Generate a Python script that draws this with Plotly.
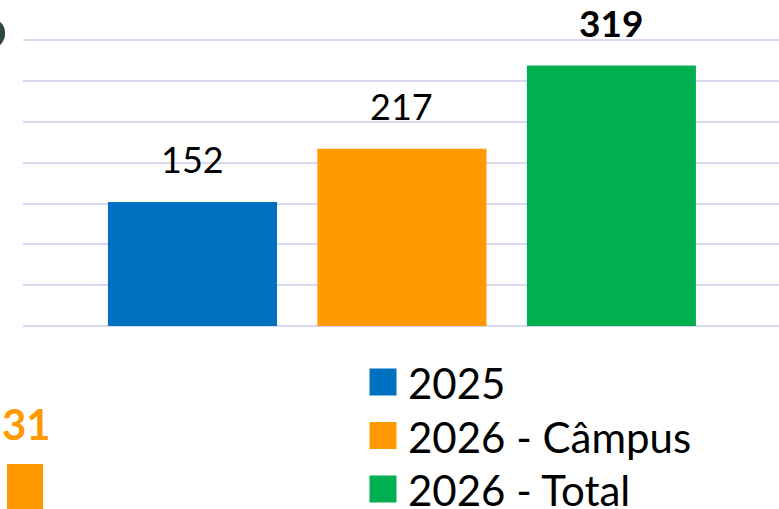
import plotly.graph_objects as go

# ---- data ----
series = ["2025", "2026 - Câmpus", "2026 - Total"]
values = [152, 217, 319]
colors = ["#0070C0", "#FF9900", "#00B050"]
label_bold = [False, False, True]

W, H = 779, 509
L, R, T, B = 23, 0, 39, 183
pw, ph = W - L - R, H - T - B

def px(x):
    return (x - L) / pw

def py(y):
    return (H - B - y) / ph

FONT = "Lato"

fig = go.Figure()
fig.add_trace(go.Bar(
    x=[0, 1, 2], y=values, marker=dict(color=colors, line=dict(width=0)),
    width=0.807, showlegend=False, hoverinfo="skip",
))

annotations = []
for i, (v, b) in enumerate(zip(values, label_bold)):
    annotations.append(dict(
        x=i, y=v, xref="x", yref="y", text=f"<b>{v}</b>" if b else str(v),
        showarrow=False, yanchor="bottom", yshift=19,
        font=dict(family=FONT, size=37 if b else 36, color="#000000"),
    ))

shapes = []
# manual legend
row_y = [382, 435.5, 489]
for name, c, yc in zip(series, colors, row_y):
    shapes.append(dict(type="rect", xref="paper", yref="paper",
                       x0=px(369.5), x1=px(396.5), y0=py(yc - 13.5), y1=py(yc + 13.5),
                       fillcolor=c, line=dict(width=0), layer="above"))
    annotations.append(dict(x=px(406), y=py(yc + 1), xref="paper", yref="paper",
                            text=name, showarrow=False, xanchor="left", yanchor="middle",
                            font=dict(family=FONT, size=42, color="#000000")))

# fragments of neighbouring slide elements
annotations.append(dict(x=px(9), y=py(24), xref="paper", yref="paper", text="<b>6</b>",
                        showarrow=False, xanchor="right", yanchor="middle",
                        font=dict(family=FONT, size=66, color="#2E4A3C")))
annotations.append(dict(x=px(0), y=py(424), xref="paper", yref="paper", text="<b>31</b>",
                        showarrow=False, xanchor="left", yanchor="middle",
                        font=dict(family=FONT, size=42, color="#FF9900")))
shapes.append(dict(type="rect", xref="paper", yref="paper",
                   x0=px(7), x1=px(43), y0=py(515), y1=py(464),
                   fillcolor="#FF9900", line=dict(width=0)))

fig.update_layout(
    width=W, height=H, margin=dict(l=L, r=R, t=T, b=B, pad=0),
    paper_bgcolor="white", plot_bgcolor="white",
    xaxis=dict(range=[-0.809, 2.8], showticklabels=False, showgrid=False,
               zeroline=False, showline=False, fixedrange=True),
    yaxis=dict(range=[0, 351.5], dtick=50, showticklabels=False, showgrid=True,
               gridcolor="#D9D9F0", gridwidth=2, zeroline=True, zerolinecolor="#D9D9F0",
               zerolinewidth=2, showline=False, fixedrange=True),
    annotations=annotations, shapes=shapes, showlegend=False,
)

fig.write_html("out.html")
